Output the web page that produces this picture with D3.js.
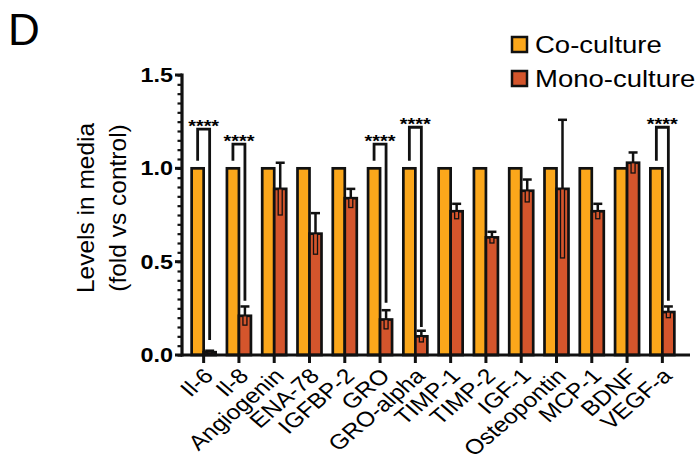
<!DOCTYPE html>
<html>
<head>
<meta charset="utf-8">
<script src="https://cdn.jsdelivr.net/npm/d3@7"></script>
<style>
  body { margin: 0; background: #fff; }
  text { font-family: "Liberation Sans", Arial, sans-serif; }
</style>
</head>
<body>
<div id="canvas"></div>
<script>
"use strict"

/* data */
let cytokines = ["Il-6", "Il-8", "Angiogenin", "ENA-78", "IGFBP-2", "GRO", "GRO-alpha",
                 "TIMP-1", "TIMP-2", "IGF-1", "Osteopontin", "MCP-1", "BDNF", "VEGF-a"];
let coCulture   = [1, 1, 1, 1, 1, 1, 1, 1, 1, 1, 1, 1, 1, 1];
let monoCulture = [0.015, 0.21, 0.89, 0.65, 0.84, 0.19, 0.10, 0.77, 0.63, 0.88, 0.89, 0.77, 1.03, 0.23];
let monoError   = [0.008, 0.05, 0.14, 0.11, 0.05, 0.05, 0.03, 0.04, 0.03, 0.06, 0.37, 0.04, 0.055, 0.03];
let yTicks = [0, 0.5, 1.0, 1.5];

/* significance brackets: category, top of bracket, foot of the right leg */
let sigNames  = ["Il-6", "Il-8", "GRO", "GRO-alpha", "VEGF-a"];
let sigTop    = [1.21, 1.13, 1.13, 1.22, 1.22];
let sigRight  = [0.08, 0.29, 0.28, 0.15, 0.29];
let sigLeft   = 1.04;
let sigLabel  = "****";

let orange = "#FBA71B";
let red = "#D4552C";
let sx = 1.17;   // the reference text is a bit wide

let drawing = d3.select("#canvas")
    .append("svg")
    .attr("width", 699)
    .attr("height", 468);

let y = d3.scaleLinear().domain([0, 1.5]).range([355, 75]);
let x = d3.scaleBand().domain(cytokines).range([186, 680]);
let cx = d => x(d) + x.bandwidth() / 2;
let barW = 12;

/* panel letter */
drawing.append("text")
    .attr("x", 8)
    .attr("y", 45)
    .attr("font-size", 44)
    .text("D");

/* co-culture bars */
drawing.selectAll(".co")
    .data(cytokines)
    .enter()
    .append("rect")
    .attr("x", d => cx(d) - barW)
    .attr("y", (d, i) => y(coCulture[i]))
    .attr("width", barW)
    .attr("height", (d, i) => y(0) - y(coCulture[i]))
    .attr("fill", orange)
    .attr("stroke", "#111")
    .attr("stroke-width", 2.7);

/* mono-culture bars */
drawing.selectAll(".mono")
    .data(cytokines)
    .enter()
    .append("rect")
    .attr("x", d => cx(d))
    .attr("y", (d, i) => y(monoCulture[i]))
    .attr("width", barW)
    .attr("height", (d, i) => y(0) - y(monoCulture[i]))
    .attr("fill", red)
    .attr("stroke", "#111")
    .attr("stroke-width", 2.7);

/* error bars: upper whisker with cap, lower part drawn inside the bar */
cytokines.forEach(function (d, i) {
    let ex = cx(d) + barW / 2;
    drawing.append("line")
        .attr("x1", ex).attr("x2", ex)
        .attr("y1", y(monoCulture[i]))
        .attr("y2", y(monoCulture[i] + monoError[i]))
        .attr("stroke", "#111")
        .attr("stroke-width", 2.5);
    drawing.append("line")
        .attr("x1", ex - 4.5).attr("x2", ex + 4.5)
        .attr("y1", y(monoCulture[i] + monoError[i]))
        .attr("y2", y(monoCulture[i] + monoError[i]))
        .attr("stroke", "#111")
        .attr("stroke-width", 2.5);
    drawing.append("rect")
        .attr("x", ex - 2)
        .attr("y", y(monoCulture[i]))
        .attr("width", 4)
        .attr("height", y(Math.max(0, monoCulture[i] - monoError[i])) - y(monoCulture[i]))
        .attr("fill", red)
        .attr("stroke", "#111")
        .attr("stroke-width", 1.3);
});

/* significance brackets */
sigNames.forEach(function (d, i) {
    let xl = cx(d) - barW / 2;
    let xr = cx(d) + barW / 2;
    drawing.append("path")
        .attr("d", "M" + xl + "," + y(sigLeft) +
                   "V" + y(sigTop[i]) +
                   "H" + xr +
                   "V" + y(sigRight[i]))
        .attr("fill", "none")
        .attr("stroke", "#111")
        .attr("stroke-width", 2.8);
    drawing.append("text")
        .attr("transform", "translate(" + cx(d) + "," + (y(sigTop[i]) + 3) + ") scale(" + sx + ",1)")
        .attr("text-anchor", "middle")
        .attr("font-size", 17)
        .attr("font-weight", "bold")
        .text(sigLabel);
});

/* y axis */
let yAxis = drawing.append("g")
    .attr("transform", "translate(182,0)")
    .call(d3.axisLeft(y).tickValues(d3.range(0, 1.5001, 0.05)).tickSize(4.5).tickFormat(""));
yAxis.select(".domain").remove();
yAxis.selectAll("line").attr("stroke", "#111").attr("stroke-width", 2.2);

drawing.append("line")
    .attr("x1", 182).attr("x2", 182)
    .attr("y1", y(1.5) - 1.5).attr("y2", y(0) + 1.5)
    .attr("stroke", "#111")
    .attr("stroke-width", 3.2);

drawing.selectAll(".ymajor")
    .data(yTicks)
    .enter()
    .append("line")
    .attr("x1", 175).attr("x2", 182)
    .attr("y1", d => y(d)).attr("y2", d => y(d))
    .attr("stroke", "#111")
    .attr("stroke-width", 3);

drawing.selectAll(".ylabel")
    .data(yTicks)
    .enter()
    .append("text")
    .attr("transform", d => "translate(173," + (y(d) + 7) + ") scale(" + sx + ",1)")
    .attr("text-anchor", "end")
    .attr("font-size", 20)
    .attr("font-weight", "bold")
    .text(d => d.toFixed(1));

/* x axis */
drawing.append("line")
    .attr("x1", 181).attr("x2", 690)
    .attr("y1", y(0)).attr("y2", y(0))
    .attr("stroke", "#111")
    .attr("stroke-width", 3.2);

drawing.selectAll(".xtick")
    .data(cytokines)
    .enter()
    .append("line")
    .attr("x1", d => cx(d)).attr("x2", d => cx(d))
    .attr("y1", y(0)).attr("y2", y(0) + 8)
    .attr("stroke", "#111")
    .attr("stroke-width", 3);

drawing.selectAll(".xlabel")
    .data(cytokines)
    .enter()
    .append("text")
    .attr("transform", d => "translate(" + (cx(d) + 5) + "," + 372 + ") scale(" + sx + ",1) rotate(-45)")
    .attr("text-anchor", "end")
    .attr("dy", "0.35em")
    .attr("font-size", 21)
    .text(d => d);

/* y axis title */
let yTitle = drawing.append("text")
    .attr("transform", "translate(94,208) rotate(-90)")
    .attr("text-anchor", "middle")
    .attr("font-size", 24.5);
yTitle.append("tspan").attr("x", 0).attr("dy", 0).text("Levels in media");
yTitle.append("tspan").attr("x", 0).attr("dy", 32).text("(fold vs control)");

/* legend */
let legendNames = ["Co-culture", "Mono-culture"];
let legendColours = [orange, red];
let legendY = [44, 78];

legendNames.forEach(function (name, i) {
    drawing.append("rect")
        .attr("x", 512)
        .attr("y", legendY[i] - 7)
        .attr("width", 15)
        .attr("height", 15)
        .attr("fill", legendColours[i])
        .attr("stroke", "#111")
        .attr("stroke-width", 2.5);
    drawing.append("text")
        .attr("transform", "translate(535," + (legendY[i] + 8.5) + ") scale(" + sx + ",1)")
        .attr("font-size", 23.5)
        .text(name);
});
</script>
</body>
</html>
